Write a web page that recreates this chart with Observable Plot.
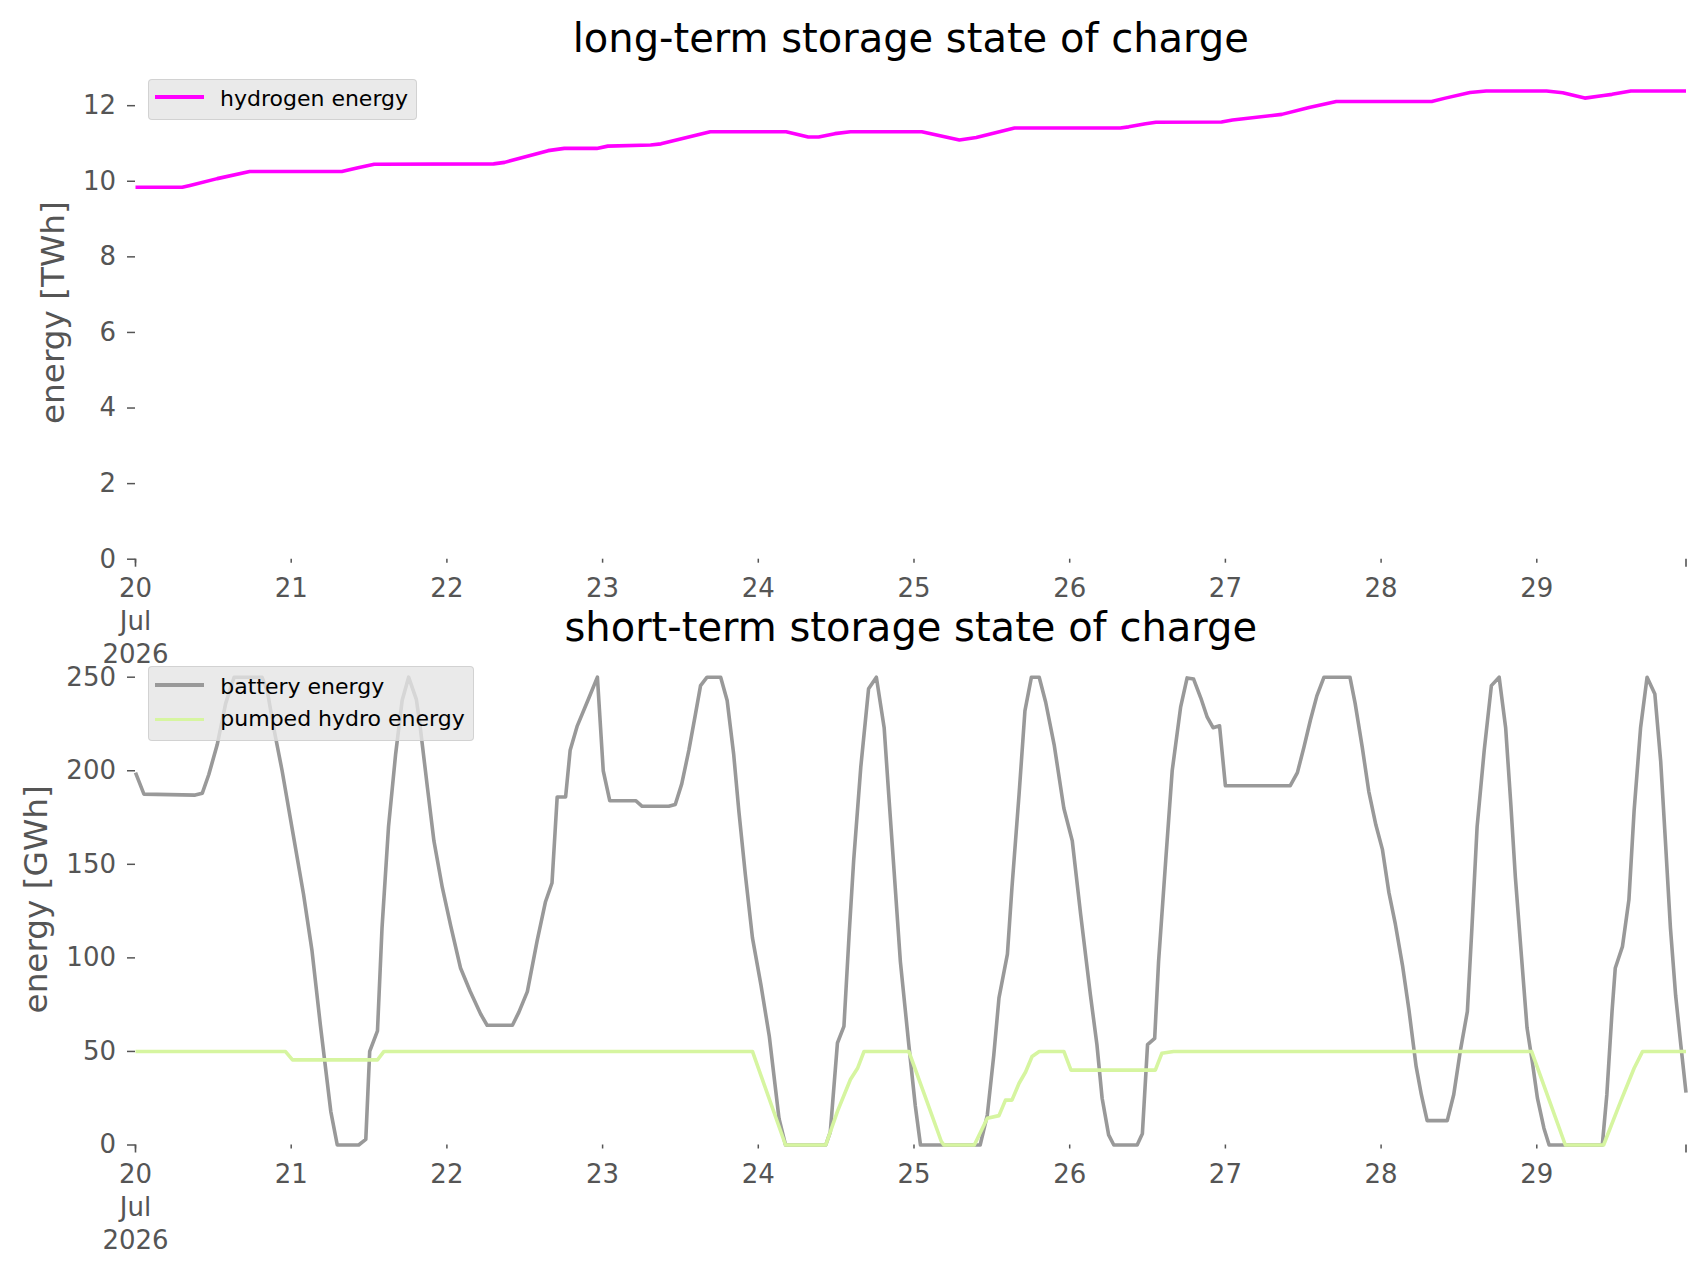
<!DOCTYPE html>
<html>
<head>
<meta charset="utf-8">
<script src="https://cdn.jsdelivr.net/npm/d3@7"></script>
<script src="https://cdn.jsdelivr.net/npm/@observablehq/plot@0.6"></script>
<style>
  html, body { margin: 0; padding: 0; background: #ffffff; }
  #page { position: relative; width: 1706px; height: 1277px; overflow: hidden; font-family: "DejaVu Sans", sans-serif; }
  .panel { position: absolute; left: 0; }
  .panel svg { overflow: visible; }
  .legend { position: absolute; background: rgba(229,229,229,0.8); border: 1px solid rgba(204,204,204,0.8); border-radius: 4px; box-sizing: border-box; }
  .legend .label { position: absolute; white-space: nowrap; font-size: 22px; line-height: 22px; color: #000; font-family: "DejaVu Sans", sans-serif; }
  .legend .swatch { position: absolute; height: 3.6px; width: 49px; }
</style>
</head>
<body>
<div id="page"></div>
<script>
// ---------------- data ----------------
const startDate = Date.UTC(2026, 6, 20); // 20 Jul 2026 00:00 UTC
const lastHour = 239;

// tick labels
const dayTickHours = [0, 24, 48, 72, 96, 120, 144, 168, 192, 216];
const dayTickLabels = ["20\nJul\n2026", "21", "22", "23", "24", "25", "26", "27", "28", "29"];
const majorTickHours = [0, 239];
const yTicksTop = [0, 2, 4, 6, 8, 10, 12];
const yTicksBottom = [0, 50, 100, 150, 200, 250];

// long-term storage: hydrogen energy [TWh]
const hydrogenHours = [0, 7.2, 8.4, 12.6, 17.6, 31.8, 34.3, 36.8, 55.2, 56.9, 63.6, 66.1, 71.1, 72.8, 79.4, 81, 88.6, 100.3, 103.7, 105.3, 107.8, 110.2, 121.2, 127, 129.6, 135.5, 151.8, 153.1, 155.7, 157.3, 167.4, 169.1, 176.7, 180.9, 185.1, 199.8, 201.9, 205.7, 208.2, 217.5, 220, 223.4, 226.3, 227.6, 230.5, 239];
const hydrogenValues = [9.84, 9.84, 9.89, 10.07, 10.26, 10.26, 10.36, 10.45, 10.46, 10.5, 10.81, 10.87, 10.87, 10.93, 10.96, 10.99, 11.31, 11.31, 11.17, 11.17, 11.26, 11.31, 11.31, 11.09, 11.16, 11.41, 11.41, 11.44, 11.52, 11.56, 11.57, 11.62, 11.77, 11.95, 12.11, 12.11, 12.2, 12.35, 12.39, 12.39, 12.34, 12.2, 12.27, 12.3, 12.39, 12.39];

// short-term storage: battery energy [GWh]
const batteryHours = [0, 1.3, 9.2, 10.3, 11.3, 12.6, 13.9, 15.2, 19.5, 20.3, 21.3, 22.6, 24.3, 25.9, 27.2, 28.5, 30.1, 31.1, 34.4, 35.5, 36.1, 37.3, 38, 39, 40.1, 41.1, 42.1, 43.3, 43.9, 45, 46, 47.3, 48.6, 50.1, 51.6, 53.2, 54.2, 58.1, 59.1, 60.4, 61.9, 63.2, 64.2, 65, 66.3, 67, 68.1, 69.9, 71.2, 72.1, 73.1, 77.1, 78.1, 82.2, 83.2, 84.2, 85.3, 86.3, 87.1, 88.1, 90.2, 91.2, 92.2, 93, 94, 95.1, 96.4, 97.7, 99.2, 100.2, 106.4, 107.1, 108.2, 109.2, 110, 110.7, 111.8, 113, 114.2, 115.4, 116.1, 116.9, 117.9, 119.2, 120.2, 121, 130.2, 131.3, 132.3, 133.1, 134.4, 135.1, 136.2, 137.1, 138.1, 139.3, 140.3, 141.6, 143.1, 144.4, 145.7, 147.2, 148.2, 149, 150, 150.8, 154.4, 155.2, 156, 157.1, 157.7, 158.8, 159.8, 161.1, 162.1, 163.1, 164.2, 165.2, 166.1, 167.1, 168, 178, 179.1, 180.1, 181.1, 182.1, 183.2, 187.2, 188, 189.1, 190.1, 191.2, 192.2, 193.2, 194.2, 195.3, 196.3, 197.4, 198.2, 199.1, 202.2, 203.2, 204.2, 205.3, 206, 206.8, 207.9, 209, 210.2, 211.2, 212, 212.7, 213.5, 214.5, 215.3, 216.1, 217.1, 217.9, 226.1, 226.8, 227.6, 228.1, 229.2, 230.2, 231, 232, 233, 234.2, 235.1, 235.8, 236.6, 237.4, 238.2, 239];
const batteryValues = [199, 187.5, 187, 188, 198, 214, 236, 250, 250, 243, 223, 200, 166, 134, 104, 64, 18, 0, 0, 3, 50, 61, 116, 170, 209, 237.5, 250, 238, 223, 191, 162.5, 137.5, 117, 94.6, 82, 70, 64, 64, 71, 82, 109, 130, 140, 186, 186, 211, 224, 239, 250, 200, 184, 184, 181, 181, 182, 193, 211, 230, 245.5, 250, 250, 237.5, 209, 178.6, 144.6, 110.7, 85.7, 58, 14, 0, 0, 7, 54.5, 63.4, 112.5, 152, 202, 243.8, 250, 223, 187.5, 148, 98, 53.6, 21, 0, 0, 16, 48, 78.6, 102, 137.5, 187.5, 232, 250, 250, 236.6, 214, 180, 162.5, 123, 80, 53.6, 25, 5.4, 0, 0, 6, 53.6, 57, 98, 152, 200, 234, 249.6, 249, 239, 228.6, 223, 224, 192, 192, 199, 212.5, 227, 240, 250, 250, 236, 212.5, 189, 171, 158, 135, 118, 96, 72, 42, 27, 13, 13, 27, 50, 71.4, 116, 170, 211, 245.5, 250, 223, 182, 143, 107, 62.5, 44.6, 25, 9, 0, 0, 27, 71.4, 94.6, 106, 131, 178.6, 223, 250, 241, 205, 164, 116, 80, 53.6, 28];

// short-term storage: pumped hydro energy [GWh]
const hydroHours = [0, 23.1, 24.2, 37.3, 38.3, 95.1, 100.2, 106.4, 108.2, 110.2, 111.3, 112.3, 119.2, 121.6, 124.2, 124.6, 129.3, 131.3, 133.1, 134.1, 135.1, 136.2, 137.2, 138.2, 139.3, 143.1, 144.2, 157.2, 158.2, 160, 215.2, 217.8, 220.4, 226.3, 228.9, 231, 232.3, 239];
const hydroValues = [50, 50, 45.5, 45.5, 50, 50, 0, 0, 18, 35, 41, 50, 50, 27, 2, 0, 0, 14.3, 15.7, 24, 24, 33, 39, 47.3, 50, 50, 40, 40, 49, 50, 50, 25, 0, 0, 23, 41, 50, 50];

const seriesNames = ["hydrogen energy", "battery energy", "pumped hydro energy"];
const seriesColors = ["#ff00ff", "#999999", "#d6f5a0"];
const titles = ["long-term storage state of charge", "short-term storage state of charge"];
const yLabels = ["energy [TWh]", "energy [GWh]"];

(function () {
// ---------------- build tables ----------------
const toDate = h => new Date(startDate + h * 3600e3);
const table = (hours, values) => hours.map((h, i) => ({date: toDate(h), value: values[i]}));
const hydrogen = table(hydrogenHours, hydrogenValues);
const battery = table(batteryHours, batteryValues);
const hydro = table(hydroHours, hydroValues);
const dayTicks = dayTickHours.map(toDate);
const majorTicks = majorTickHours.map(toDate);
const dayLabel = d => {
  const i = dayTicks.findIndex(t => +t === +d);
  return i >= 0 ? dayTickLabels[i] : "";
};

const FONT = "DejaVu Sans";
const GRAY = "#555555";
const LW = 3.6;

function panel({height, marginTop, marginBottom, yDomain, yTicks, lines, title, titleDy, yLabel, yLabelDx}) {
  return Plot.plot({
    width: 1706,
    height,
    marginLeft: 135,
    marginRight: 20.5,
    marginTop,
    marginBottom,
    style: {fontFamily: FONT, background: "transparent", overflow: "visible"},
    x: {type: "utc", domain: [toDate(0), toDate(lastHour)]},
    y: {domain: yDomain},
    marks: [
      Plot.axisY({ticks: yTicks, tickSize: 8, tickPadding: 11.5, fontSize: 26, color: GRAY, strokeWidth: 1.5, label: null, tickFormat: d => String(d)}),
      Plot.axisX({ticks: dayTicks, tickSize: 4, tickPadding: 10.5, fontSize: 26, color: GRAY, strokeWidth: 1.5, label: null, tickFormat: dayLabel, lineHeight: 1.27}),
      Plot.axisX({ticks: majorTicks, tickSize: 8, color: GRAY, strokeWidth: 1.6, label: null, tickFormat: () => ""}),
      ...lines.map(({data, color}) => Plot.line(data, {x: "date", y: "value", stroke: color, strokeWidth: LW, strokeLinejoin: "round", strokeLinecap: "butt"})),
      Plot.text([title], {text: d => d, frameAnchor: "top", lineAnchor: "middle", dy: titleDy, fontSize: 40, fill: "#000000", fontFamily: FONT}),
      Plot.text([yLabel], {text: d => d, frameAnchor: "left", textAnchor: "middle", lineAnchor: "middle", rotate: -90, dx: yLabelDx, fontSize: 32.7, fill: GRAY, fontFamily: FONT})
    ]
  });
}

const page = document.getElementById("page");

const topPanel = document.createElement("div");
topPanel.className = "panel";
topPanel.style.top = "0px";
topPanel.appendChild(panel({
  height: 680, marginTop: 65.5, marginBottom: 121.3,
  yDomain: [0, 13.05], yTicks: yTicksTop,
  lines: [{data: hydrogen, color: seriesColors[0]}],
  title: titles[0], titleDy: -27,
  yLabel: yLabels[0], yLabelDx: -82
}));
page.appendChild(topPanel);

const bottomPanel = document.createElement("div");
bottomPanel.className = "panel";
bottomPanel.style.top = "600px";
bottomPanel.appendChild(panel({
  height: 677, marginTop: 53.3, marginBottom: 132.5,
  yDomain: [0, 262.5], yTicks: yTicksBottom,
  lines: [{data: battery, color: seriesColors[1]}, {data: hydro, color: seriesColors[2]}],
  title: titles[1], titleDy: -25.5,
  yLabel: yLabels[1], yLabelDx: -99
}));
page.appendChild(bottomPanel);

// ---------------- legends ----------------
function legend(left, topPx, width, height, rows) {
  const box = document.createElement("div");
  box.className = "legend";
  Object.assign(box.style, {left: left + "px", top: topPx + "px", width: width + "px", height: height + "px"});
  rows.forEach(r => {
    const sw = document.createElement("div");
    sw.className = "swatch";
    Object.assign(sw.style, {left: "6px", top: (r.lineY - 1.8 - 1) + "px", background: r.color});
    box.appendChild(sw);
    const lb = document.createElement("div");
    lb.className = "label";
    lb.textContent = r.name;
    Object.assign(lb.style, {left: "71px", top: (r.baseline - 18.6 - 1) + "px"});
    box.appendChild(lb);
  });
  page.appendChild(box);
}
legend(148, 78.5, 269, 41, [{name: seriesNames[0], color: seriesColors[0], lineY: 18.3, baseline: 27.9}]);
legend(148.3, 666, 326, 75, [
  {name: seriesNames[1], color: seriesColors[1], lineY: 19, baseline: 28.3},
  {name: seriesNames[2], color: seriesColors[2], lineY: 53.3, baseline: 60.7}
]);
})();
</script>
</body>
</html>
